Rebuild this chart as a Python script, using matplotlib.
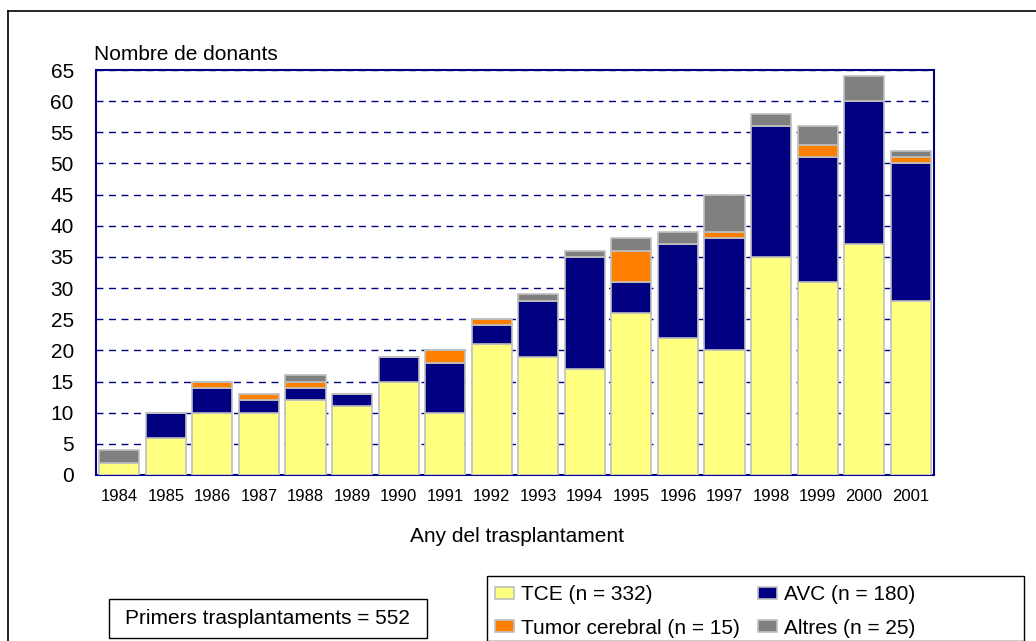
import matplotlib
matplotlib.use('Agg')
import matplotlib.pyplot as plt
from matplotlib.patches import Rectangle
from matplotlib.lines import Line2D
import numpy as np

plt.rcParams['font.family'] = ['Liberation Sans', 'DejaVu Sans']

years = ['1984', '1985', '1986', '1987', '1988', '1989', '1990', '1991', '1992',
         '1993', '1994', '1995', '1996', '1997', '1998', '1999', '2000', '2001']
tce = [2, 6, 10, 10, 12, 11, 15, 10, 21, 19, 17, 26, 22, 20, 35, 31, 37, 28]
avc = [0, 4, 4, 2, 2, 2, 4, 8, 3, 9, 18, 5, 15, 18, 21, 20, 23, 22]
tumor = [0, 0, 1, 1, 1, 0, 0, 2, 1, 0, 0, 5, 0, 1, 0, 2, 0, 1]
altres = [2, 0, 0, 0, 1, 0, 0, 0, 0, 1, 1, 2, 2, 6, 2, 3, 4, 1]
series_labels = ['TCE (n = 332)', 'AVC (n = 180)', 'Tumor cerebral (n = 15)', 'Altres (n = 25)']
colors = ['#FFFF80', '#000080', '#FF8000', '#808080']

W, H = 1036, 641
fig = plt.figure(figsize=(W / 100, H / 100), dpi=100)

def fx(px):
    return px / W

def fy(py):
    return 1 - py / H

# outer frame (right/bottom fall off the image)
fig.add_artist(Line2D([fx(8), fx(8)], [0, fy(11)], color='black', lw=1.2))
fig.add_artist(Line2D([fx(8), 1], [fy(11), fy(11)], color='black', lw=1.2))

ax = fig.add_axes([fx(96), fy(475), (934 - 96) / W, (475 - 70) / H])
x = np.arange(len(years))
bottom = np.zeros(len(years))
bars = []
for vals, c in zip([tce, avc, tumor, altres], colors):
    b = ax.bar(x, vals, bottom=bottom, width=0.86, color=c, edgecolor='#C0C0C0',
               linewidth=1.2, zorder=3)
    bars.append(b)
    bottom += np.array(vals)

ax.set_xlim(-0.5, len(years) - 0.5)
ax.set_ylim(0, 65)
ax.set_yticks(range(0, 66, 5))
ax.set_xticks(x)
ax.set_xticklabels(years, fontsize=12)
ax.tick_params(axis='y', labelsize=15, length=0, pad=16)
ax.tick_params(axis='x', length=0, pad=10)
ax.yaxis.grid(True, color='#000080', linestyle=(0, (5, 4)), linewidth=1, zorder=0)
for s in ax.spines.values():
    s.set_color('#000080')
    s.set_linewidth(1.5)

fig.text(fx(94), fy(54), 'Nombre de donants', fontsize=15, va='center', ha='left')
fig.text(fx(517), fy(537), 'Any del trasplantament', fontsize=15, va='center', ha='center')

# summary box
fig.add_artist(Rectangle((fx(109), fy(638)), (427 - 109) / W, (638 - 599) / H,
                         transform=fig.transFigure, facecolor='white',
                         edgecolor='black', linewidth=1))
fig.text(fx(267), fy(619), 'Primers trasplantaments = 552', fontsize=15,
         ha='center', va='center')

# legend
fig.add_artist(Rectangle((fx(487), fy(641)), (1024 - 487) / W, (641 - 576) / H,
                         transform=fig.transFigure, facecolor='white',
                         edgecolor='black', linewidth=1))
order = [bars[0], bars[2], bars[1], bars[3]]
labs = [series_labels[0], series_labels[2], series_labels[1], series_labels[3]]
leg = fig.legend(order, labs, loc='upper left', bbox_to_anchor=(fx(487), fy(577)),
                 ncol=2, fontsize=15, frameon=False,
                 handlelength=0.9, handleheight=0.55, handletextpad=0.34,
                 columnspacing=0.85, borderpad=0.4, labelspacing=0.68, borderaxespad=0)

fig.savefig('out.png', dpi=100)
